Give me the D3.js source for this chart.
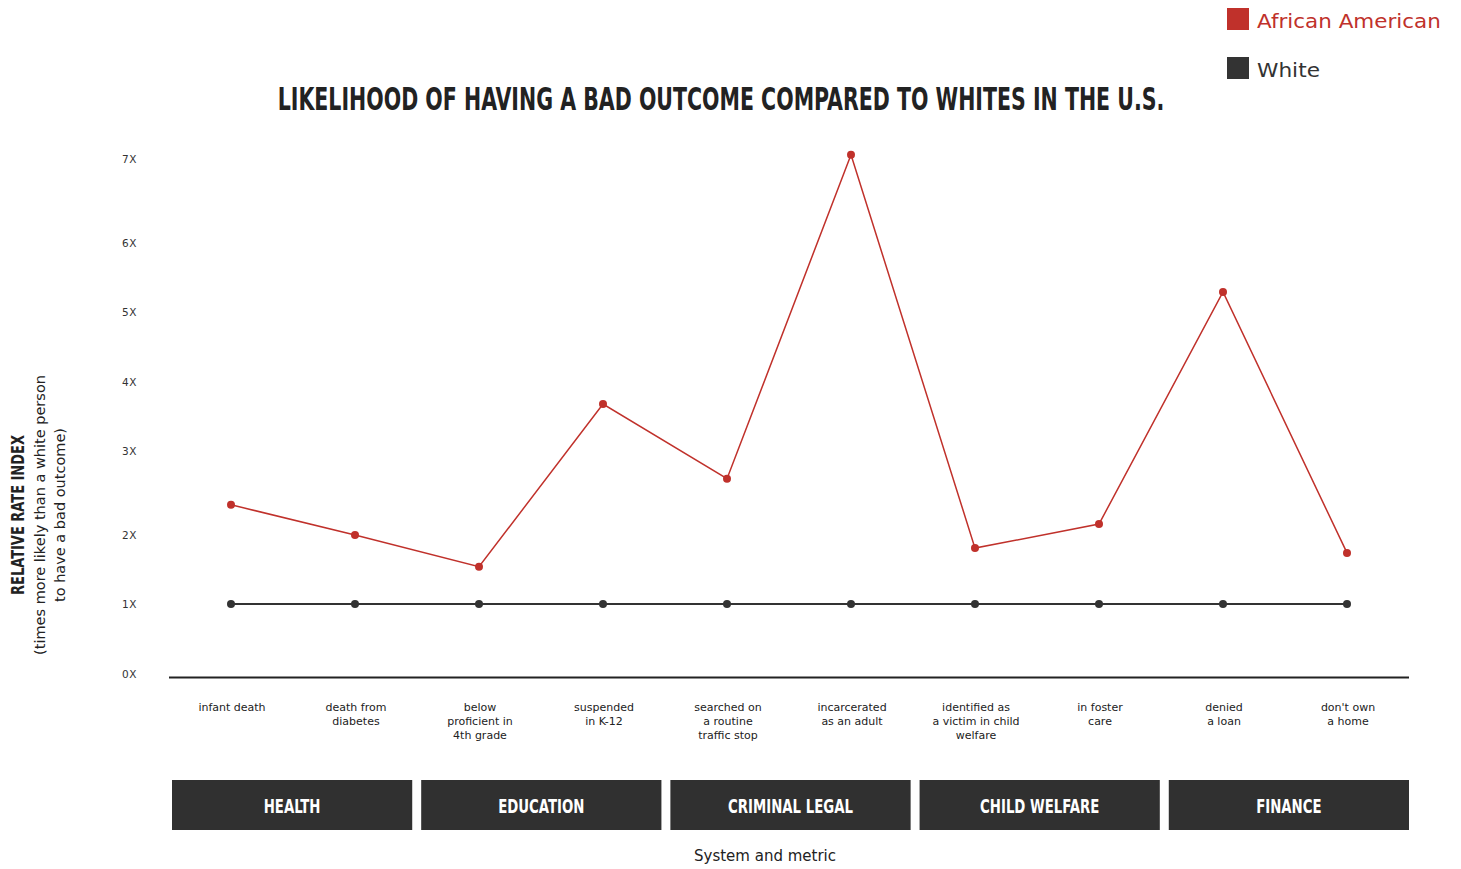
<!DOCTYPE html>
<html><head><meta charset="utf-8">
<script src="https://cdn.jsdelivr.net/npm/d3@7"></script>
<style>body{margin:0;background:#fff}svg{display:block}</style>
</head><body><svg id="c" width="1461" height="869"></svg>
<script>
const metrics = [["infant death"],["death from","diabetes"],["below","proficient in","4th grade"],["suspended","in K-12"],["searched on","a routine","traffic stop"],["incarcerated","as an adult"],["identified as","a victim in child","welfare"],["in foster","care"],["denied","a loan"],["don't own","a home"]];
const africanAmerican = [2.36, 2.0, 1.54, 3.68, 2.67, 7.05, 1.81, 2.13, 5.29, 1.74];
const white = [1,1,1,1,1,1,1,1,1,1];
const yTicks = [0,1,2,3,4,5,6,7];
const yTickLabels = ["0X","1X","2X","3X","4X","5X","6X","7X"];
const systems = ["HEALTH","EDUCATION","CRIMINAL LEGAL","CHILD WELFARE","FINANCE"];
const seriesNames = ["African American","White"];

const RED="#c0312b", DARK="#333333";
const svg=d3.select("#c");
const cond="'DejaVu Sans Condensed','DejaVu Sans',sans-serif";
const body="'DejaVu Sans',sans-serif";

const x=d3.scalePoint().domain(d3.range(metrics.length)).range([231,1347]);
// tick labels in the reference sit at uneven heights; the scale follows them
const y=d3.scaleLinear().domain(yTicks).range([674,604,535,451,382,312,243,159]);

// title (squeezed horizontally to the reference width)
const title=svg.append("text").attr("x",0).attr("y",110).attr("text-anchor","middle")
 .style("font-family",cond).style("font-weight","bold").style("font-size","32px").attr("fill","#222")
 .text("LIKELIHOOD OF HAVING A BAD OUTCOME COMPARED TO WHITES IN THE U.S.");
const tw=title.node().getComputedTextLength();
title.attr("transform",`translate(721,0) scale(${887/tw},1)`);

// legend
const lgW=[184,63];
const lg=svg.append("g");
seriesNames.forEach((n,i)=>{
  lg.append("rect").attr("x",1227).attr("y",8+i*49).attr("width",22).attr("height",22).attr("fill",i?DARK:RED);
  const t=lg.append("text").attr("x",0).attr("y",28+i*49).style("font-family",body).style("font-size","19px")
   .attr("fill",i?DARK:RED).text(n);
  const w=t.node().getComputedTextLength();
  t.attr("transform",`translate(1257,0) scale(${lgW[i]/w},1)`);
});

// y tick labels
svg.append("g").selectAll("text").data(yTicks).join("text")
 .attr("x",122).attr("y",d=>y(d)+4).style("font-family",body).style("font-size","10.5px").style("letter-spacing","0.5px")
 .attr("fill",DARK).text((d,i)=>yTickLabels[i]);

// axis line
svg.append("line").attr("x1",169).attr("x2",1409).attr("y1",677.5).attr("y2",677.5).attr("stroke","#222").attr("stroke-width",2);

// y title
const yt=svg.append("g").attr("transform","translate(0,515) rotate(-90)");
const ytt=yt.append("text").attr("x",0).attr("y",24).attr("text-anchor","middle")
 .style("font-family",cond).style("font-weight","bold").style("font-size","17px").attr("fill","#222").text("RELATIVE RATE INDEX");
ytt.attr("transform",`scale(${160/ytt.node().getComputedTextLength()},1)`);
yt.append("text").attr("x",0).attr("y",45).attr("text-anchor","middle").style("font-family",body).style("font-size","14.5px").attr("fill","#222").text("(times more likely than a white person");
yt.append("text").attr("x",0).attr("y",65).attr("text-anchor","middle").style("font-family",body).style("font-size","14.5px").attr("fill","#222").text("to have a bad outcome)");

// lines
const line=d3.line().x((d,i)=>x(i)).y(d=>y(d));
svg.append("path").datum(white).attr("d",line).attr("fill","none").attr("stroke",DARK).attr("stroke-width",2);
svg.append("g").selectAll("circle").data(white).join("circle").attr("cx",(d,i)=>x(i)).attr("cy",d=>y(d)).attr("r",4).attr("fill",DARK);
svg.append("path").datum(africanAmerican).attr("d",line).attr("fill","none").attr("stroke",RED).attr("stroke-width",1.5);
svg.append("g").selectAll("circle").data(africanAmerican).join("circle").attr("cx",(d,i)=>x(i)).attr("cy",d=>y(d)).attr("r",4).attr("fill",RED);

// x labels
const xl=svg.append("g").selectAll("text").data(metrics).join("text")
 .attr("x",(d,i)=>x(i)+1).attr("y",711).attr("text-anchor","middle").style("font-family",body).style("font-size","11px").attr("fill","#222");
xl.each(function(d){const t=d3.select(this);d.forEach((s,j)=>t.append("tspan").attr("x",t.attr("x")).attr("dy",j?14:0).text(s));});

// system boxes
const bx=d3.scaleBand().domain(systems).range([172,1409]).paddingInner(0.036);
const sg=svg.append("g").selectAll("g").data(systems).join("g");
sg.append("rect").attr("x",d=>bx(d)).attr("y",780).attr("width",bx.bandwidth()).attr("height",50).attr("fill","#303030");
sg.append("text").attr("x",d=>bx(d)+bx.bandwidth()/2).attr("y",813).attr("text-anchor","middle")
 .style("font-family",cond).style("font-weight","bold").style("font-size","20px").attr("fill","#fff")
 .attr("transform",d=>{const cx=bx(d)+bx.bandwidth()/2;return `translate(${cx},0) scale(0.74,1) translate(${-cx},0)`;})
 .text(d=>d);

svg.append("text").attr("x",765).attr("y",861).attr("text-anchor","middle").style("font-family",body).style("font-size","15px").attr("fill","#222").text("System and metric");
</script></body></html>
